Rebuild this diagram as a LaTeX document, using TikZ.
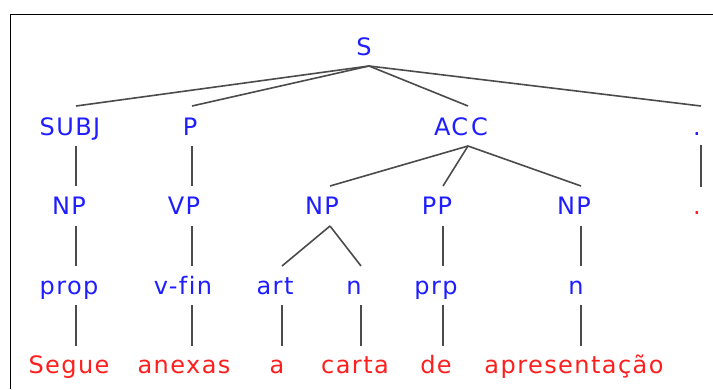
\documentclass[tikz,border=0pt]{standalone}
\usepackage{fontspec}
\newfontfamily\treefont[LetterSpace=6,Ligatures=NoCommon]{DejaVu Sans}
\definecolor{catblue}{RGB}{30,30,255}
\definecolor{wordred}{RGB}{255,30,30}
\definecolor{edgegray}{RGB}{75,75,75}
\begin{document}
\begin{tikzpicture}[x=1pt,y=1pt,
  cat/.style={anchor=base,inner sep=0pt,text=catblue,font=\treefont\fontsize{24}{28}\selectfont},
  word/.style={anchor=base,inner sep=0pt,text=wordred,font=\treefont\fontsize{24}{28}\selectfont},
  edge/.style={draw=edgegray,line width=1.6pt},
  frame/.style={draw=black,line width=1.9pt}]
\useasboundingbox (0,0) rectangle (713,-389);
\fill[white] (0,0) rectangle (713,-389);
\draw[frame] (10.5,-389) -- (10.5,-14.5) -- (713,-14.5);

% root
\node[cat] (s) at (364,-55) {S};
\coordinate (s-b) at (369,-66);

% functions
\node[cat] (subj) at (70,-135) {SUBJ};
\coordinate (subj-t) at (76,-106); \coordinate (subj-b) at (76,-146);
\node[cat] (p) at (190,-135) {P};
\coordinate (p-t) at (192,-106); \coordinate (p-b) at (192,-146);
\node[cat] (acc) at (461,-135) {AC\kern3pt C};
\coordinate (acc-t) at (468,-106); \coordinate (acc-b) at (468,-146);
\node[cat] (dotb) at (697,-135) {.};
\coordinate (dotb-t) at (701,-106); \coordinate (dotb-b) at (701,-145);

% phrases
\node[cat] (np1) at (69,-214) {NP};
\coordinate (np1-t) at (76,-186); \coordinate (np1-b) at (76,-226);
\node[cat] (vp) at (184,-214) {VP};
\coordinate (vp-t) at (192,-186); \coordinate (vp-b) at (192,-226);
\node[cat] (np2) at (322,-214) {NP};
\coordinate (np2-t) at (330,-186); \coordinate (np2-b) at (330,-226);
\node[cat] (pp) at (437,-214) {PP};
\coordinate (pp-t) at (443,-186); \coordinate (pp-b) at (443,-226);
\node[cat] (np3) at (574,-214) {NP};
\coordinate (np3-t) at (581,-186); \coordinate (np3-b) at (581,-226);
\node[word] (dotr) at (697,-214) {.};
\coordinate (dotr-t) at (701,-187);

% word classes
\node[cat] (prop) at (69,-294) {prop};
\coordinate (prop-t) at (76,-266); \coordinate (prop-b) at (76,-305);
\node[cat] (vfin) at (183,-294) {v-fin};
\coordinate (vfin-t) at (192,-266); \coordinate (vfin-b) at (192,-305);
\node[cat] (art) at (275,-294) {art};
\coordinate (art-t) at (282,-266); \coordinate (art-b) at (282,-305);
\node[cat] (n1) at (354,-294) {n};
\coordinate (n1-t) at (361,-266); \coordinate (n1-b) at (361,-305);
\node[cat] (prp) at (436,-294) {prp};
\coordinate (prp-t) at (443,-266); \coordinate (prp-b) at (443,-305);
\node[cat] (n2) at (576,-294) {n};
\coordinate (n2-t) at (581,-266); \coordinate (n2-b) at (581,-305);

% words
\node[word] (w1) at (69,-373) {Segue};
\coordinate (w1-t) at (76,-346);
\node[word] (w2) at (184,-373) {anexas};
\coordinate (w2-t) at (192,-346);
\node[word] (w3) at (277,-373) {a};
\coordinate (w3-t) at (282,-346);
\node[word] (w4) at (355,-373) {carta};
\coordinate (w4-t) at (361,-346);
\node[word] (w5) at (436,-373) {de};
\coordinate (w5-t) at (443,-346);
\node[word] (w6) at (574,-373) {apresentação};
\coordinate (w6-t) at (581,-346);

% edges
\draw[edge] (s-b) -- (subj-t);
\draw[edge] (s-b) -- (p-t);
\draw[edge] (s-b) -- (acc-t);
\draw[edge] (s-b) -- (dotb-t);
\draw[edge] (subj-b) -- (np1-t);
\draw[edge] (p-b) -- (vp-t);
\draw[edge] (acc-b) -- (np2-t);
\draw[edge] (acc-b) -- (pp-t);
\draw[edge] (acc-b) -- (np3-t);
\draw[edge] (dotb-b) -- (dotr-t);
\draw[edge] (np1-b) -- (prop-t);
\draw[edge] (vp-b) -- (vfin-t);
\draw[edge] (np2-b) -- (art-t);
\draw[edge] (np2-b) -- (n1-t);
\draw[edge] (pp-b) -- (prp-t);
\draw[edge] (np3-b) -- (n2-t);
\draw[edge] (prop-b) -- (w1-t);
\draw[edge] (vfin-b) -- (w2-t);
\draw[edge] (art-b) -- (w3-t);
\draw[edge] (n1-b) -- (w4-t);
\draw[edge] (prp-b) -- (w5-t);
\draw[edge] (n2-b) -- (w6-t);
\end{tikzpicture}
\end{document}
